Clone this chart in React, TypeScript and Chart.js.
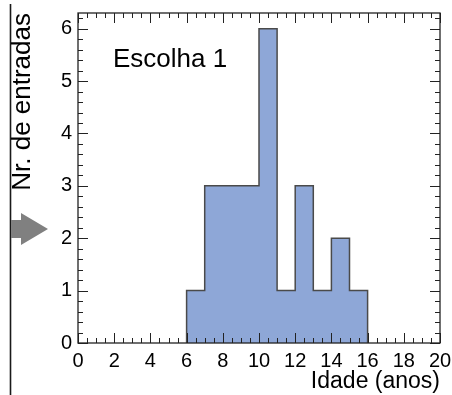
import { useEffect, useRef } from "react";
import { Chart, registerables } from "chart.js";

Chart.register(...registerables);

// ---- data ----
const binStarts = [6, 7, 8, 9, 10, 11, 12, 13, 14, 15];
const binWidth = 1;
const counts = [1, 3, 3, 3, 6, 1, 3, 1, 2, 1];
const xTickValues = [0, 2, 4, 6, 8, 10, 12, 14, 16, 18, 20];
const yTickValues = [0, 1, 2, 3, 4, 5, 6];
const xMin = 0;
const xMax = 20;
const yMin = 0;
const yMax = 6.3;
const xMinorStep = 0.5;
const yMinorStep = 0.2;
const legendText = "Escolha 1";
const xTitle = "Idade (anos)";
const yTitle = "Nr. de entradas";

const FONT = "'Liberation Sans', Arial, Helvetica, sans-serif";

const decorPlugin = {
  id: "decor",
  beforeDraw(chart: any) {
    const ctx = chart.ctx;
    ctx.save();
    // vertical line at the far left
    ctx.strokeStyle = "#1a1a1a";
    ctx.lineWidth = 1.6;
    ctx.beginPath();
    ctx.moveTo(10.5, 4);
    ctx.lineTo(10.5, 395);
    ctx.stroke();
    // grey arrow
    ctx.fillStyle = "#808080";
    ctx.beginPath();
    ctx.moveTo(11, 220);
    ctx.lineTo(21, 220);
    ctx.lineTo(21, 213);
    ctx.lineTo(48, 229);
    ctx.lineTo(21, 245);
    ctx.lineTo(21, 238);
    ctx.lineTo(11, 238);
    ctx.closePath();
    ctx.fill();
    ctx.restore();
  },
  afterDatasetsDraw(chart: any) {
    const { ctx, chartArea, scales } = chart;
    const { left, right, top, bottom } = chartArea;
    const x = scales.x;
    const y = scales.y;
    ctx.save();
    ctx.strokeStyle = "#222";
    ctx.lineWidth = 1;
    ctx.beginPath();
    const nX = Math.round((xMax - xMin) / xMinorStep);
    for (let i = 0; i <= nX; i++) {
      const v = xMin + i * xMinorStep;
      const major = xTickValues.some((t) => Math.abs(t - v) < 1e-9);
      const len = major ? 10 : 5;
      const px = Math.round(x.getPixelForValue(v)) + 0.5;
      ctx.moveTo(px, bottom);
      ctx.lineTo(px, bottom - len);
      ctx.moveTo(px, top);
      ctx.lineTo(px, top + len);
    }
    const nY = Math.floor((yMax - yMin) / yMinorStep + 1e-9);
    for (let i = 0; i <= nY; i++) {
      const v = yMin + i * yMinorStep;
      const major = yTickValues.some((t) => Math.abs(t - v) < 1e-9);
      const len = major ? 10 : 5;
      const py = Math.round(y.getPixelForValue(v)) + 0.5;
      ctx.moveTo(left, py);
      ctx.lineTo(left + len, py);
      ctx.moveTo(right, py);
      ctx.lineTo(right - len, py);
    }
    ctx.stroke();
    // frame
    ctx.lineWidth = 1.3;
    ctx.strokeStyle = "#222";
    ctx.strokeRect(left, top, right - left, bottom - top);
    // legend text
    ctx.fillStyle = "#000";
    ctx.font = `26px ${FONT}`;
    ctx.textAlign = "left";
    ctx.textBaseline = "alphabetic";
    ctx.fillText(legendText, left + 35, top + 54);
    ctx.restore();
  },
};

function zeroPad(s: any) {
  s.paddingLeft = 0;
  s.paddingRight = 0;
  s.paddingTop = 0;
  s.paddingBottom = 0;
}

export default function App() {
  const ref = useRef<HTMLCanvasElement | null>(null);
  useEffect(() => {
    document.body.style.margin = "0";
    const canvas = ref.current;
    if (!canvas) return;
    const points: { x: number; y: number }[] = [{ x: binStarts[0], y: 0 }];
    binStarts.forEach((b, i) => points.push({ x: b, y: counts[i] }));
    points.push({ x: binStarts[binStarts.length - 1] + binWidth, y: 0 });

    const chart = new Chart(canvas, {
      type: "line",
      data: {
        datasets: [
          {
            data: points,
            stepped: "before",
            fill: "origin",
            backgroundColor: "rgb(142,167,215)",
            borderColor: "#4a4a4a",
            borderWidth: 1.5,
            pointRadius: 0,
          },
        ],
      },
      options: {
        animation: false,
        responsive: false,
        maintainAspectRatio: false,
        layout: { padding: { top: 13, right: 12, left: 0, bottom: 0 } },
        plugins: { legend: { display: false }, tooltip: { enabled: false } },
        scales: {
          x: {
            type: "linear",
            min: xMin,
            max: xMax,
            afterBuildTicks: (s: any) => {
              s.ticks = xTickValues.map((v) => ({ value: v }));
            },
            afterFit: (s: any) => {
              s.height = 52;
              zeroPad(s);
            },
            grid: { display: false, drawTicks: false, tickLength: 0 },
            border: { display: false },
            ticks: {
              autoSkip: false,
              maxRotation: 0,
              padding: 6,
              color: "#000",
              font: { family: FONT, size: 20 },
            },
            title: {
              display: true,
              text: xTitle,
              align: "end",
              color: "#000",
              font: { family: FONT, size: 23 },
              padding: { top: 0, bottom: 0 },
            },
          },
          y: {
            type: "linear",
            min: yMin,
            max: yMax,
            afterBuildTicks: (s: any) => {
              s.ticks = yTickValues.map((v) => ({ value: v }));
            },
            afterFit: (s: any) => {
              s.width = 78;
              zeroPad(s);
            },
            grid: { display: false, drawTicks: false, tickLength: 0 },
            border: { display: false },
            ticks: {
              autoSkip: false,
              padding: 6,
              color: "#000",
              font: { family: FONT, size: 20 },
            },
            title: {
              display: true,
              text: yTitle,
              align: "end",
              color: "#000",
              font: { family: FONT, size: 26 },
              padding: { top: 7, bottom: 0 },
            },
          },
        },
      },
      plugins: [decorPlugin],
    } as any);
    return () => chart.destroy();
  }, []);
  return <canvas ref={ref} width={452} height={395} style={{ display: "block" }} />;
}
